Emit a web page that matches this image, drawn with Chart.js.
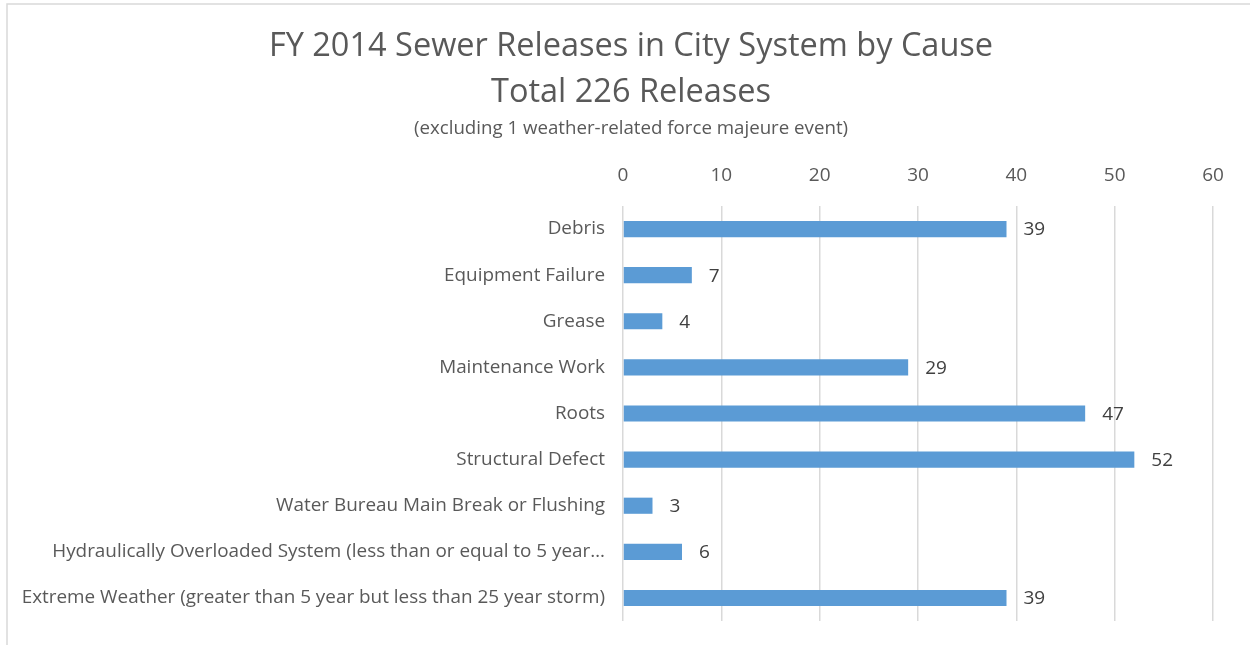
<!DOCTYPE html>
<html>
<head>
<meta charset="utf-8">
<script src="https://cdn.jsdelivr.net/npm/chart.js@4/dist/chart.umd.min.js"></script>
<style>
html,body{margin:0;padding:0;background:#fff;}
#wrap{width:1250px;height:645px;position:relative;}
</style>
</head>
<body>
<div id="wrap"><canvas id="c" width="1250" height="645"></canvas></div>
<script>
const categories = [
  "Debris",
  "Equipment Failure",
  "Grease",
  "Maintenance Work",
  "Roots",
  "Structural Defect",
  "Water Bureau Main Break or Flushing",
  "Hydraulically Overloaded System (less than or equal to 5 year\u2026",
  "Extreme Weather (greater than 5 year but less than 25 year storm)"
];
const releases = [39, 7, 4, 29, 47, 52, 3, 6, 39];
const titleLines = ["FY 2014 Sewer Releases in City System by Cause", "Total 226 Releases"];
const subtitleText = "(excluding 1 weather-related force majeure event)";
const FONT = "'Open Sans', 'Liberation Sans', sans-serif";

const framePlugin = {
  id: 'frame',
  beforeDraw(chart) {
    const ctx = chart.ctx;
    ctx.save();
    ctx.strokeStyle = '#d9d9d9';
    ctx.lineWidth = 1.5;
    ctx.strokeRect(7, 4, 1400, 800);
    ctx.restore();
  }
};

const titlePlugin = {
  id: 'centeredTitle',
  afterDraw(chart) {
    const ctx = chart.ctx;
    ctx.save();
    ctx.fillStyle = '#595959';
    ctx.textAlign = 'center';
    ctx.textBaseline = 'middle';
    ctx.font = "32.5px " + FONT;
    ctx.fillText(titleLines[0], 631, 47);
    ctx.fillText(titleLines[1], 631, 93);
    ctx.font = "18.7px " + FONT;
    ctx.fillText(subtitleText, 631, 129);
    ctx.restore();
  }
};

const labelPlugin = {
  id: 'valueLabels',
  afterDatasetsDraw(chart) {
    const ctx = chart.ctx;
    const meta = chart.getDatasetMeta(0);
    ctx.save();
    ctx.font = "19px " + FONT;
    ctx.fillStyle = '#404040';
    ctx.textAlign = 'left';
    ctx.textBaseline = 'middle';
    meta.data.forEach((bar, i) => {
      ctx.fillText(String(chart.data.datasets[0].data[i]), bar.x + 17, bar.y + 1);
    });
    ctx.restore();
  }
};

new Chart(document.getElementById('c'), {
  type: 'bar',
  data: {
    labels: categories,
    datasets: [{
      data: releases,
      backgroundColor: '#5B9BD5',
      borderWidth: 0,
      categoryPercentage: 1,
      barPercentage: 0.35
    }]
  },
  options: {
    indexAxis: 'y',
    responsive: false,
    animation: false,
    layout: { padding: { left: 0, right: 37, top: 142, bottom: 24 } },
    plugins: {
      legend: { display: false },
      tooltip: { enabled: false },
      title: { display: false },
      subtitle: { display: false }
    },
    scales: {
      x: {
        position: 'top',
        min: 0,
        max: 60,
        ticks: { stepSize: 10, color: '#595959', font: { family: FONT, size: 19 }, padding: 19 },
        grid: { color: '#d9d9d9', lineWidth: 1.5, drawTicks: false },
        border: { display: false },
        afterFit(scale) { scale.height = 64; scale.paddingLeft = 0; scale.paddingRight = 0; }
      },
      y: {
        ticks: { color: '#595959', font: { family: FONT, size: 18.9 }, padding: 18, autoSkip: false },
        grid: { display: false, drawTicks: false },
        border: { display: false },
        afterFit(scale) { scale.width = 623; scale.paddingTop = 0; scale.paddingBottom = 0; }
      }
    }
  },
  plugins: [framePlugin, titlePlugin, labelPlugin]
});
</script>
</body>
</html>
